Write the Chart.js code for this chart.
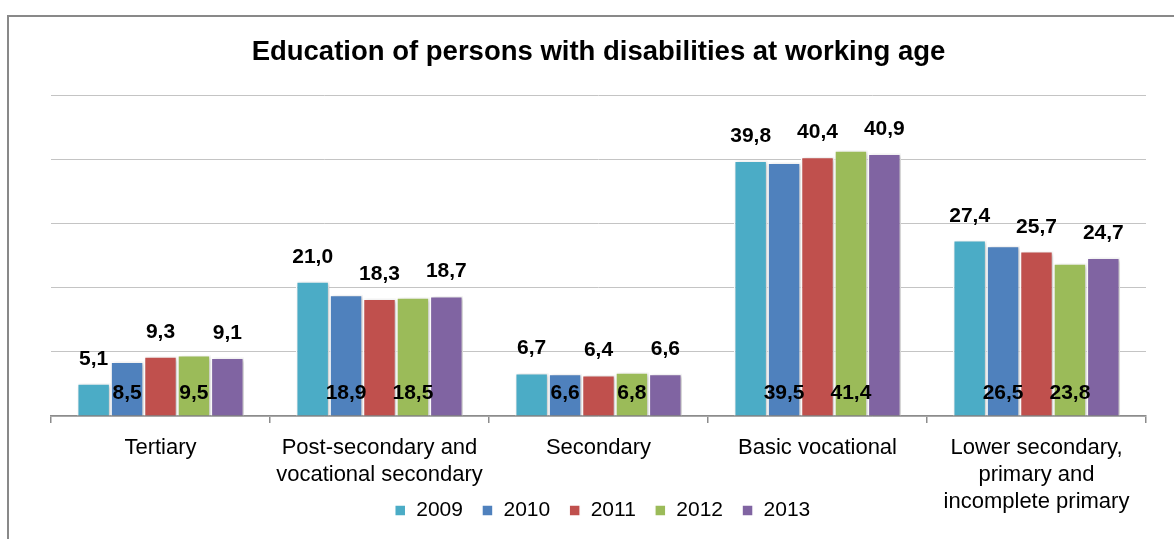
<!DOCTYPE html>
<html>
<head>
<meta charset="utf-8">
<script src="https://cdn.jsdelivr.net/npm/chart.js@4.4.1/dist/chart.umd.min.js"></script>
<style>
  body { margin: 0; background: #fff; overflow: hidden; }
  #wrap { position: relative; width: 1174px; height: 539px; overflow: hidden; }
  #frame { position: absolute; left: 7px; top: 15px; width: 1200px; height: 600px; border: 2px solid #898989; }
  canvas { position: absolute; left: 0; top: 0; }
</style>
</head>
<body>
<div id="wrap">
  <div id="frame"></div>
  <canvas id="myChart" width="1174" height="539"></canvas>
</div>
<script>
const categories = [
  'Tertiary',
  ['Post-secondary and', 'vocational secondary'],
  'Secondary',
  'Basic vocational',
  ['Lower secondary,', 'primary and', 'incomplete primary']
];
const years = ['2009', '2010', '2011', '2012', '2013'];
const values2009 = [5.1, 21.0, 6.7, 39.8, 27.4];
const values2010 = [8.5, 18.9, 6.6, 39.5, 26.5];
const values2011 = [9.3, 18.3, 6.4, 40.4, 25.7];
const values2012 = [9.5, 18.5, 6.8, 41.4, 23.8];
const values2013 = [9.1, 18.7, 6.6, 40.9, 24.7];
const colors = ['#4BACC6', '#4F81BD', '#C0504D', '#9BBB59', '#8064A2'];

const FONT = "'Liberation Sans', Arial, sans-serif";

const series = [values2009, values2010, values2011, values2012, values2013];

// 2010 and 2012 labels sit at the foot of their bars, the rest above
const insideLabel = [false, true, false, true, false];

const LEGEND_H = 51;

const barShadow = {
  id: 'barShadow',
  beforeDatasetsDraw(chart) {
    const ctx = chart.ctx;
    ctx.save();
    ctx.shadowColor = 'rgba(0,0,0,0.22)';
    ctx.shadowBlur = 4;
    ctx.shadowOffsetX = 2;
    ctx.shadowOffsetY = 1;
  },
  afterDatasetsDraw(chart) {
    chart.ctx.restore();
  }
};

// legend shares the band under the category labels, so pull it back up
const legendShift = {
  id: 'legendShift',
  afterLayout(chart) {
    const lg = chart.legend;
    const h = lg.bottom - lg.top;
    lg.top = 481;
    lg.bottom = 481 + h;
    lg.left += 4;
    lg.right += 4;
  }
};

const valueLabels = {
  id: 'valueLabels',
  afterDatasetsDraw(chart) {
    const ctx = chart.ctx;
    const base = chart.scales.y.getPixelForValue(0);
    ctx.save();
    ctx.font = 'bold 21px ' + FONT;
    ctx.fillStyle = '#000';
    ctx.textAlign = 'center';
    ctx.textBaseline = 'alphabetic';
    chart.data.datasets.forEach((ds, i) => {
      chart.getDatasetMeta(i).data.forEach((bar, j) => {
        const txt = ds.data[j].toFixed(1).replace('.', ',');
        const y = insideLabel[i] ? base - 17 : bar.y - 18.5;
        ctx.fillText(txt, bar.x, y);
      });
    });
    ctx.restore();
  }
};

const ctx = document.getElementById('myChart').getContext('2d');
new Chart(ctx, {
  type: 'bar',
  data: {
    labels: categories,
    datasets: years.map((yr, i) => ({
      label: yr,
      data: series[i],
      backgroundColor: colors[i],
      borderColor: '#ffffff',
      borderWidth: 1.5,
      categoryPercentage: 0.763,
      barPercentage: 1
    }))
  },
  options: {
    responsive: false,
    animation: false,
    layout: { padding: { left: 51, right: 28, top: 15, bottom: -LEGEND_H } },
    plugins: {
      title: {
        display: true,
        text: 'Education of persons with disabilities at working age',
        color: '#000',
        font: { family: FONT, size: 27.5, weight: 'bold', lineHeight: 1.2 },
        padding: { top: 21, bottom: 26 }
      },
      legend: {
        position: 'bottom',
        labels: {
          boxWidth: 11,
          boxHeight: 11,
          padding: 19,
          color: '#000',
          font: { family: FONT, size: 21 }
        }
      },
      tooltip: { enabled: false }
    },
    scales: {
      x: {
        grid: {
          display: true,
          drawOnChartArea: false,
          drawTicks: true,
          tickLength: 7,
          color: '#8c8c8c',
          lineWidth: 1.5,
          offset: true
        },
        border: { display: true, color: '#8c8c8c', width: 1.5 },
        ticks: {
          color: '#000',
          padding: 11,
          maxRotation: 0,
          autoSkip: false,
          font: { family: FONT, size: 22, lineHeight: 1.23 }
        },
        afterFit(scale) { scale.height = 124; }
      },
      y: {
        min: 0,
        max: 50,
        grid: { color: '#c4c4c4', lineWidth: 1, drawTicks: false },
        border: { display: false },
        ticks: { display: false, stepSize: 10 }
      }
    }
  },
  plugins: [barShadow, legendShift, valueLabels]
});
</script>
</body>
</html>
